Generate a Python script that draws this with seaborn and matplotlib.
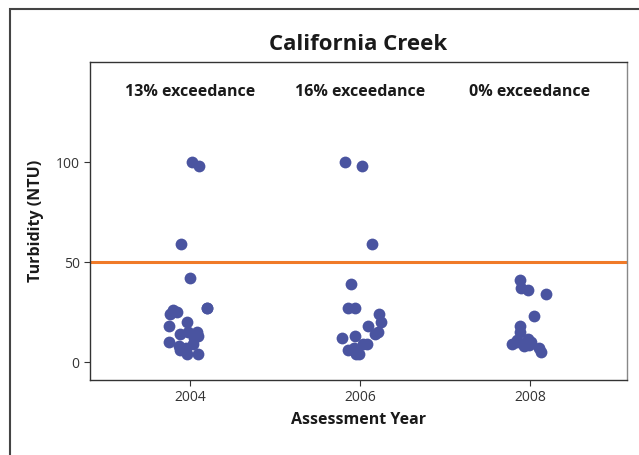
import numpy as np
import pandas as pd
import seaborn as sns
import matplotlib.pyplot as plt
from matplotlib.patches import Rectangle

years = ['2004', '2006', '2008']
turb_2004 = [100, 98, 59, 42, 27, 27, 26, 25, 24, 20, 18, 15, 15, 14, 13, 12, 10, 9, 8, 7, 6, 4, 4]
turb_2006 = [100, 98, 59, 39, 27, 27, 24, 20, 18, 15, 14, 13, 12, 9, 9, 7, 6, 4, 4]
turb_2008 = [41, 37, 36, 34, 23, 18, 15, 11.5, 11, 10, 10, 9, 8.5, 8, 7, 5]
exceedance = ['13% exceedance', '16% exceedance', '0% exceedance']
threshold = 50

df = pd.DataFrame({
    'year': ['2004'] * len(turb_2004) + ['2006'] * len(turb_2006) + ['2008'] * len(turb_2008),
    'turbidity': turb_2004 + turb_2006 + turb_2008,
})

sns.set_style('ticks')
plt.rcParams['font.family'] = ['Open Sans', 'DejaVu Sans']

np.random.seed(3)
fig = plt.figure(figsize=(6.39, 4.55), dpi=100)
ax = fig.add_axes([90 / 639, 1 - 380 / 455, 537 / 639, 318 / 455])

# outer frame of the figure panel
fig.patches.append(Rectangle((10 / 639, -0.1), 1.2, 1 - 9 / 455 + 0.1, transform=fig.transFigure,
                             fill=False, edgecolor='#444444', linewidth=1.5))

ax.axhline(threshold, color='#f07a28', linewidth=2.2, zorder=1)
sns.stripplot(data=df, x='year', y='turbidity', order=years, jitter=0.13, size=8.5,
              color='#4a54a0', linewidth=0, ax=ax, zorder=3)

for i, txt in enumerate(exceedance):
    ax.text(i, 135, txt, ha='center', va='center', fontsize=11.5, fontweight='bold', color='#1a1a1a')

ax.set_xlim(-0.588, 2.571)
ax.set_ylim(-9, 150)
ax.set_yticks([0, 50, 100])
ax.set_xlabel('Assessment Year', fontsize=11.5, fontweight='bold', color='#1a1a1a', labelpad=5)
ax.set_ylabel('Turbidity (NTU)', fontsize=11.5, fontweight='bold', color='#1a1a1a', labelpad=8)
ax.set_title('California Creek', fontsize=16, fontweight='bold', color='#1a1a1a', pad=9)
ax.tick_params(labelsize=10, colors='#333333', length=4)
for s in ax.spines.values():
    s.set_color('#333333')
    s.set_linewidth(1)
ax.spines['right'].set_color('#888888')

fig.savefig('out.png', dpi=100)
